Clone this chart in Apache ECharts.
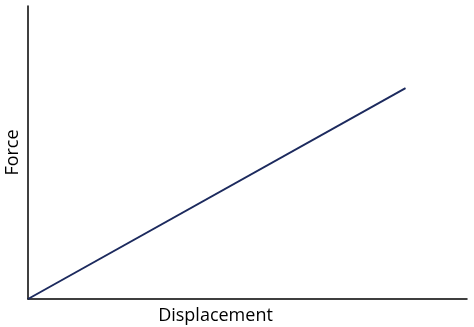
<!DOCTYPE html>
<html><head><meta charset="utf-8">
<script src="https://cdn.jsdelivr.net/npm/echarts@6/dist/echarts.min.js"></script>
<style>html,body{margin:0;padding:0;background:#fff}#c{width:474px;height:327px}</style>
</head><body><div id="c"></div>
<script>
var xLabel = 'Displacement';
var yLabel = 'Force';
var displacement = [0, 86];
var force = [0, 72];
var points = displacement.map(function(d, i){ return [d, force[i]]; });
var chart = echarts.init(document.getElementById('c'), null, {renderer:'canvas'});
chart.setOption({
  animation:false,
  grid:{left:28, top:6, right:7, bottom:28, containLabel:false, outerBoundsMode:'none'},
  xAxis:{type:'value', min:0, max:100, name:xLabel, nameLocation:'middle', nameGap:8,
    nameTextStyle:{color:'#000', fontSize:18, fontFamily:'Open Sans', padding:[0,64,0,0]},
    axisLine:{show:true, lineStyle:{color:'#000', width:1.5}}, axisTick:{show:false}, axisLabel:{show:false}, splitLine:{show:false}},
  yAxis:{type:'value', min:0, max:100, name:yLabel, nameLocation:'middle', nameGap:6,
    nameTextStyle:{color:'#000', fontSize:18, fontFamily:'Open Sans', padding:[0,0,0,0]},
    axisLine:{show:true, lineStyle:{color:'#000', width:1.5}}, axisTick:{show:false}, axisLabel:{show:false}, splitLine:{show:false}},
  series:[{type:'line', data:points, showSymbol:false, lineStyle:{color:'#1c2a5e', width:2}}]
});
</script></body></html>
